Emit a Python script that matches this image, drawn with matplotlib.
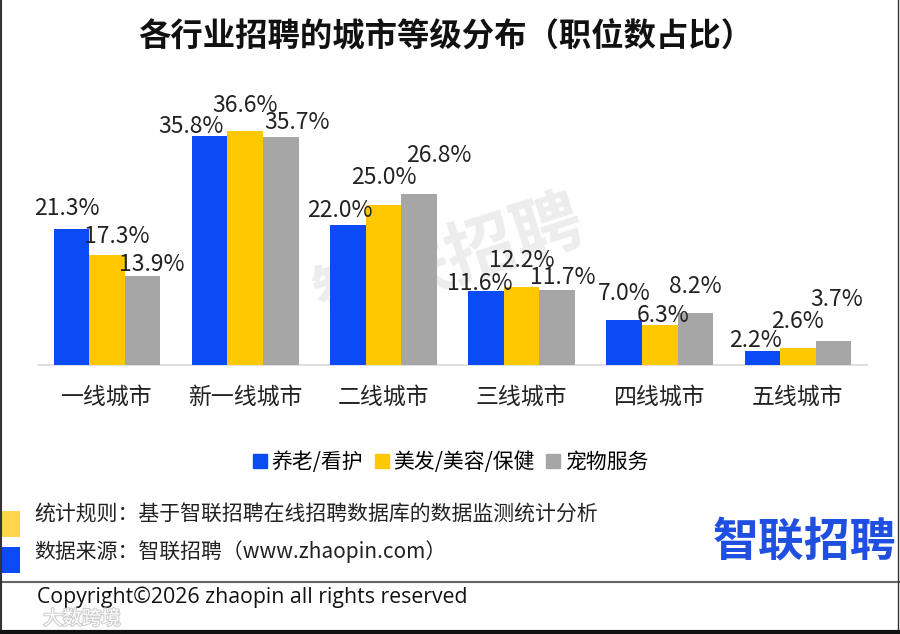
import matplotlib
matplotlib.use("Agg")
import matplotlib.pyplot as plt
import matplotlib.patheffects as pe
from matplotlib.patches import Rectangle
from matplotlib.lines import Line2D
import numpy as np

plt.rcParams['font.family'] = ['Noto Sans CJK SC', 'DejaVu Sans']

categories = ["一线城市", "新一线城市", "二线城市", "三线城市", "四线城市", "五线城市"]
series_names = ["养老/看护", "美发/美容/保健", "宠物服务"]
eldercare = [21.3, 35.8, 22.0, 11.6, 7.0, 2.2]
beauty = [17.3, 36.6, 25.0, 12.2, 6.3, 2.6]
pet = [13.9, 35.7, 26.8, 11.7, 8.2, 3.7]

title = "各行业招聘的城市等级分布（职位数占比）"
note_rule = "统计规则：基于智联招聘在线招聘数据库的数据监测统计分析"
note_src = "数据来源：智联招聘（www.zhaopin.com）"
copyright_text = "Copyright©2026 zhaopin all rights reserved"
logo_text = "智联招聘"

colors = ["#0B4BF5", "#FFC800", "#A6A6A6"]

# value-label nudges in pixels relative to each bar top (style only, as in the source)
label_nudge_dx = [[-5, -19, -8, -6, 0, -7],
                  [10, 0, 0, 0, 3, 0],
                  [9, 16, 20, 6, 0, 3]]
label_nudge_dy = [[14, 3, 8, 1, 20, 4],
                  [12, 19, 21, 20, 3, 20],
                  [5, 8, 32, 6, 20, 35]]

fig = plt.figure(figsize=(9, 6.34), dpi=100)
W, H = 900, 634

def fx(px):
    return px / W

def fy(py):
    return 1 - py / H

# watermark behind everything
fig.text(fx(450), fy(262), "智联招聘", fontsize=50, fontweight="bold", color="#EDEDED",
         rotation=18, ha="center", va="center", zorder=-5)

ax = fig.add_axes([fx(38), fy(365), fx(867) - fx(38), fy(100) - fy(365)])
ax.set_zorder(1)
x = np.arange(len(categories))
bw = 0.257
data = [eldercare, beauty, pet]
for i, (vals, c) in enumerate(zip(data, colors)):
    pos = x + (i - 1) * bw
    ax.bar(pos, vals, width=bw, color=c, zorder=3)
    for j, (xp, v) in enumerate(zip(pos, vals)):
        ax.annotate(f"{v:.1f}%", (xp, v),
                    xytext=(label_nudge_dx[i][j], label_nudge_dy[i][j]),
                    textcoords="offset pixels",
                    ha="center", va="baseline", fontsize=16.5, color="#222222", zorder=5)

ax.set_xlim(-0.5, len(categories) - 0.5)
ax.set_ylim(0, 41.5)
ax.set_yticks([])
ax.set_xticks(x)
ax.set_xticklabels(categories, fontsize=16.5, color="#222222")
ax.tick_params(axis="x", length=0, pad=15)
for s in ["top", "right", "left"]:
    ax.spines[s].set_visible(False)
ax.spines["bottom"].set_color("#D9D9D9")
ax.spines["bottom"].set_linewidth(1.2)
ax.patch.set_alpha(0)

# title
fig.text(fx(446), fy(37), title, fontsize=23.3, fontweight="bold", ha="center", va="center",
         color="#111111")

# legend
handles = [Line2D([0], [0], marker="s", linestyle="none", markersize=10,
                  markerfacecolor=c, markeredgecolor=c) for c in colors]
fig.legend(handles, series_names, loc="center", bbox_to_anchor=(fx(450), fy(462)),
           ncol=3, frameon=False, fontsize=15, handletextpad=0.15, columnspacing=0.5,
           handlelength=0.8)

# footer notes
fig.text(fx(34), fy(515), note_rule, fontsize=15, va="center", ha="left", color="#222222")
fig.text(fx(34), fy(552), note_src, fontsize=15, va="center", ha="left", color="#222222")
fig.patches.append(Rectangle((0, fy(537)), fx(20), fy(511) - fy(537), transform=fig.transFigure,
                             facecolor="#FFD54A", edgecolor="none"))
fig.patches.append(Rectangle((0, fy(573)), fx(20), fy(547) - fy(573), transform=fig.transFigure,
                             facecolor="#0B4BF5", edgecolor="none"))

# logo
fig.text(fx(804), fy(543), logo_text, fontsize=33, fontweight="bold", color="#1E4FE0",
         ha="center", va="center")

# separator line
fig.add_artist(Line2D([0, 1], [fy(582), fy(582)], transform=fig.transFigure,
                      color="#666666", linewidth=1.5))
fig.text(fx(37), fy(597), copyright_text, fontsize=15.3, va="center", ha="left",
         color="#111111", family=["Open Sans", "DejaVu Sans"])

# faint corner watermark
fig.text(fx(43), fy(619), "大数跨境", fontsize=14, va="center", ha="left", color="white",
         path_effects=[pe.withStroke(linewidth=1.5, foreground="#CCCCCC")])

# frame lines
fig.add_artist(Line2D([fx(1), fx(1)], [0, 1], transform=fig.transFigure, color="#333333", linewidth=1.5))
fig.add_artist(Line2D([fx(898), fx(898)], [0, 1], transform=fig.transFigure, color="#333333", linewidth=1.0))
fig.add_artist(Line2D([0, 1], [fy(632), fy(632)], transform=fig.transFigure, color="#111111", linewidth=3))

fig.savefig("out.png", dpi=100, facecolor="white")
